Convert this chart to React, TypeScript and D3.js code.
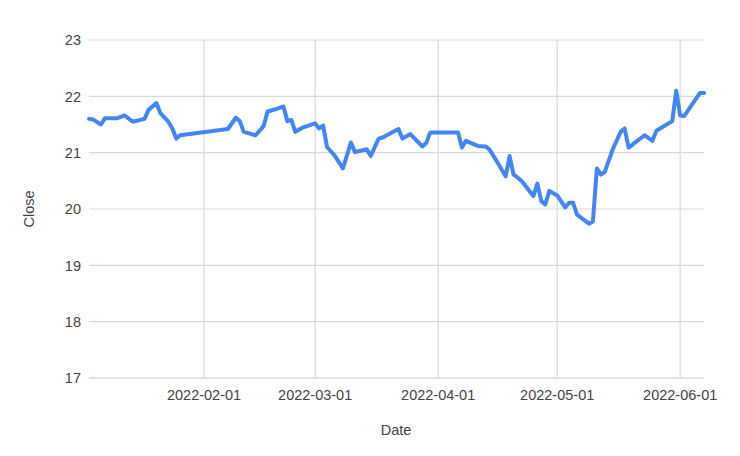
import React from "react";
import * as d3 from "d3";

const dates: string[] = [
  "2022-01-03","2022-01-04","2022-01-06","2022-01-07","2022-01-10","2022-01-12","2022-01-14","2022-01-17",
  "2022-01-18","2022-01-20","2022-01-21","2022-01-23","2022-01-24","2022-01-25","2022-01-26","2022-02-07",
  "2022-02-09","2022-02-10","2022-02-11","2022-02-14","2022-02-16","2022-02-17","2022-02-19","2022-02-21",
  "2022-02-22","2022-02-23","2022-02-24","2022-02-26","2022-03-01","2022-03-02","2022-03-03","2022-03-04",
  "2022-03-06","2022-03-08","2022-03-10","2022-03-11","2022-03-14","2022-03-15","2022-03-17","2022-03-18",
  "2022-03-22","2022-03-23","2022-03-25","2022-03-28","2022-03-29","2022-03-30","2022-04-06","2022-04-07",
  "2022-04-08","2022-04-11","2022-04-13","2022-04-14","2022-04-16","2022-04-18","2022-04-19","2022-04-20",
  "2022-04-21","2022-04-22","2022-04-25","2022-04-26","2022-04-27","2022-04-28","2022-04-29","2022-05-01",
  "2022-05-03","2022-05-04","2022-05-05","2022-05-06","2022-05-09","2022-05-10","2022-05-11","2022-05-12",
  "2022-05-13","2022-05-15","2022-05-17","2022-05-18","2022-05-19","2022-05-23","2022-05-25","2022-05-26",
  "2022-05-30","2022-05-31","2022-06-01","2022-06-02","2022-06-06","2022-06-07"
];
const closes: number[] = [
  21.6,21.59,21.5,21.61,21.61,21.66,21.55,21.6,
  21.76,21.88,21.7,21.55,21.43,21.25,21.31,21.42,
  21.62,21.56,21.37,21.31,21.47,21.73,21.77,21.82,
  21.56,21.58,21.37,21.45,21.52,21.43,21.48,21.1,
  20.94,20.72,21.18,21.01,21.06,20.94,21.25,21.27,
  21.42,21.25,21.33,21.11,21.17,21.36,21.36,21.09,
  21.21,21.12,21.11,21.05,20.82,20.58,20.94,20.61,
  20.56,20.5,20.23,20.45,20.14,20.08,20.32,20.24,
  20.03,20.11,20.11,19.9,19.74,19.78,20.72,20.61,
  20.66,21.06,21.37,21.43,21.09,21.31,21.21,21.39,
  21.56,22.1,21.66,21.65,22.06,22.06
];
const yTicks: number[] = [17, 18, 19, 20, 21, 22, 23];
const xTickLabels: string[] = ["2022-02-01", "2022-03-01", "2022-04-01", "2022-05-01", "2022-06-01"];
const xDomain: string[] = ["2022-01-03", "2022-06-07"];

const W = 740, H = 456;
const L = 89, R = 704, T = 40, B = 378;

export default function App() {
  const parse = d3.utcParse("%Y-%m-%d");
  const pts = dates.map((d, i) => ({ d: parse(d) as Date, v: closes[i] }));
  const x = d3.scaleUtc().domain(xDomain.map((s) => parse(s) as Date)).range([L, R]);
  const y = d3.scaleLinear().domain([17, 23]).range([B, T]);
  const line = d3.line<{ d: Date; v: number }>().x((p) => x(p.d)).y((p) => y(p.v));
  const font = "Arial, 'Liberation Sans', sans-serif";
  const fs = 14.5;
  return (
    <svg width={W} height={H} style={{ position: "absolute", left: 0, top: 0, background: "#fff" }} fontFamily={font}>
      <rect x={0} y={0} width={W} height={H} fill="#fff" />
      {yTicks.map((t) => (
        <g key={t}>
          <line x1={L} x2={R} y1={y(t)} y2={y(t)} stroke={t === 17 ? "#c8c8c8" : "#d9d9d9"} strokeWidth={1.2} />
          <text x={81} y={y(t)} dy="0.36em" textAnchor="end" fontSize={fs} fill="#444">{t}</text>
        </g>
      ))}
      {xTickLabels.map((s) => {
        const xv = x(parse(s) as Date);
        return (
          <g key={s}>
            <line x1={xv} x2={xv} y1={T} y2={B} stroke="#d9d9d9" strokeWidth={1.2} />
            <text x={xv} y={399.5} textAnchor="middle" fontSize={fs} fill="#444">{s}</text>
          </g>
        );
      })}
      <path d={line(pts) || ""} fill="none" stroke="#4285f4" strokeWidth={4} strokeLinejoin="round" strokeLinecap="round" />
      <text x={396} y={435} textAnchor="middle" fontSize={fs} fill="#444">Date</text>
      <text transform={`translate(34,209) rotate(-90)`} textAnchor="middle" fontSize={fs} fill="#444">Close</text>
    </svg>
  );
}
